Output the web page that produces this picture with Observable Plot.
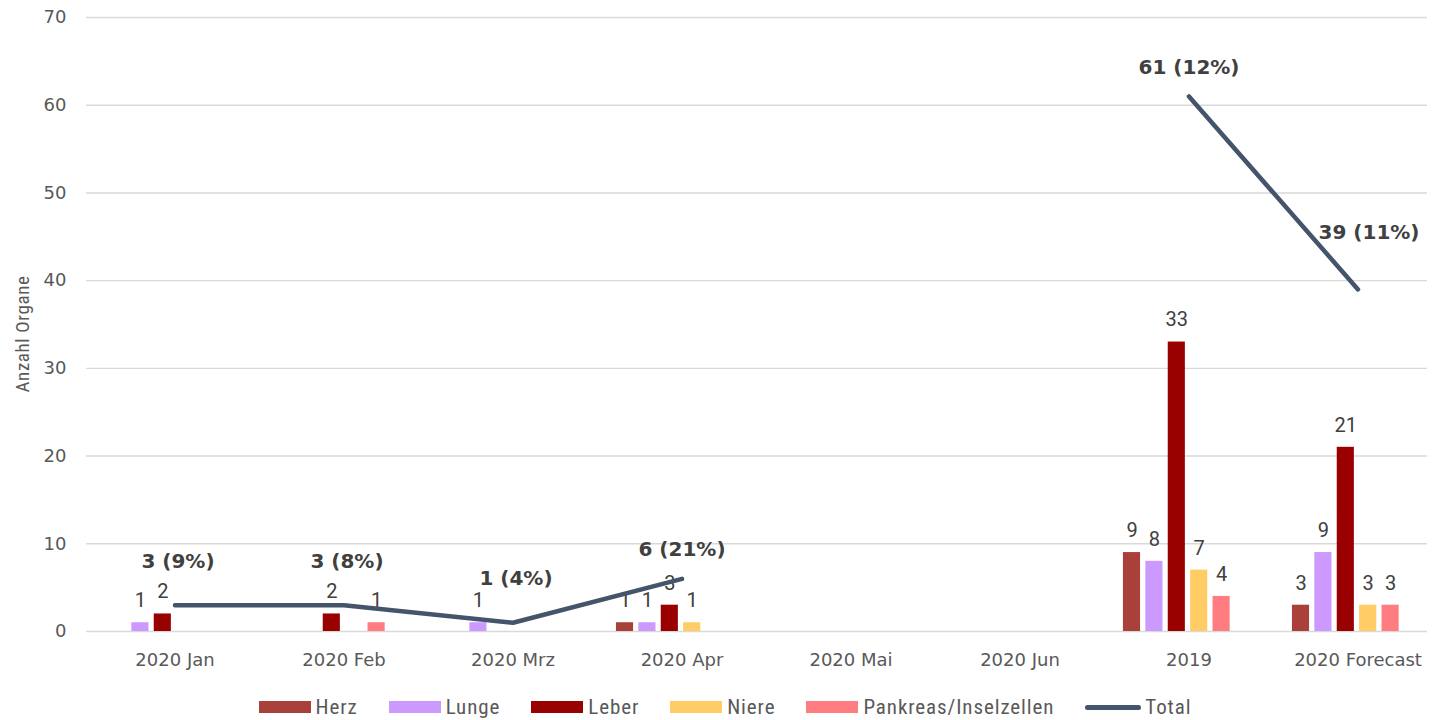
<!DOCTYPE html>
<html>
<head>
<meta charset="utf-8">
<script src="https://cdn.jsdelivr.net/npm/d3@7"></script>
<script src="https://cdn.jsdelivr.net/npm/@observablehq/plot@0.6"></script>
<style>
  html, body { margin: 0; padding: 0; background: #ffffff; overflow: hidden; }
  #wrap { position: relative; width: 1436px; height: 720px; }
  #legend {
    position: absolute; left: 0; top: 692px; width: 1436px; height: 30px;
    display: flex; justify-content: center; align-items: center;
    padding-left: 14px; box-sizing: border-box;
    font-family: "Liberation Sans Narrow", "Arial Narrow", "Roboto", sans-serif;
    font-stretch: condensed; font-size: 21px; letter-spacing: 0.9px; color: #595959;
  }
  .item { display: flex; align-items: center; margin-right: 31px; }
  .item:last-child { margin-right: 0; }
  .sw { width: 52px; height: 12px; margin-right: 5px; }
  .ln { width: 56px; height: 5px; border-radius: 3px; margin-right: 4px; }
</style>
</head>
<body>
<div id="wrap"><div id="chart"></div><div id="legend"></div></div>
<script>
// ---- data ----
const categories = ["2020 Jan", "2020 Feb", "2020 Mrz", "2020 Apr", "2020 Mai", "2020 Jun", "2019", "2020 Forecast"];
const seriesNames = ["Herz", "Lunge", "Leber", "Niere", "Pankreas/Inselzellen"];
const herz     = [null, null, null, 1, null, null, 9, 3];
const lunge    = [1, null, 1, 1, null, null, 8, 9];
const leber    = [2, 2, null, 3, null, null, 33, 21];
const niere    = [null, null, null, 1, null, null, 7, 3];
const pankreas = [null, 1, null, null, null, null, 4, 3];
const total    = [3, 3, 1, 6, null, null, 61, 39];
const totalPct = [9, 8, 4, 21, null, null, 12, 11];
const yTicks   = [0, 10, 20, 30, 40, 50, 60, 70];
const totalName = "Total";

// ---- styles ----
const seriesColors = ["#A9403A", "#CC99FF", "#990000", "#FFCC66", "#FF7C80"];
const totalColor = "#44546A";
const W = 1436, H = 680;
const mL = 86, mR = 9, mT = 17, mB = 49;
const xRange = [86, 1445];
const bandW = (xRange[1] - xRange[0]) / categories.length;
const barW = 18, barStep = 22.4;
const tickFont = "'DejaVu Sans', Verdana, sans-serif";

const seriesValues = [herz, lunge, leber, niere, pankreas];

const barMarks = [];
const valueLabelMarks = [];
seriesValues.forEach((vals, i) => {
  const rows = categories.map((c, j) => ({cat: c, value: vals[j], series: seriesNames[i]}))
    .filter(d => d.value != null);
  const dx = (i - 2.5) * barStep - 1;
  const inset = (bandW - barW) / 2;
  barMarks.push(Plot.barY(rows, {
    x: "cat", y: "value", fill: seriesColors[i], dx,
    insetLeft: inset, insetRight: inset
  }));
  valueLabelMarks.push(Plot.text(rows, {
    x: "cat", y: "value", text: d => String(d.value), dx, dy: -22,
    fontSize: 20, fontFamily: "Roboto, sans-serif", fill: "#404040"
  }));
});

const totalRows = categories.map((c, j) => ({cat: c, total: total[j], pct: totalPct[j]}));
const totalLabelRows = totalRows.filter(d => d.total != null);
// label placement groups (style only)
const labelPlacement = [
  {cats: ["2020 Jan", "2020 Feb", "2020 Mrz"], dx: 3, dy: -44},
  {cats: ["2020 Apr", "2019"], dx: 0, dy: -29},
  {cats: ["2020 Forecast"], dx: 11, dy: -57}
];
const totalLabelMarks = labelPlacement.map(p => Plot.text(
  totalLabelRows.filter(d => p.cats.includes(d.cat)), {
    x: "cat", y: "total", text: d => `${d.total} (${d.pct}%)`,
    dx: p.dx, dy: p.dy, fontSize: 20, fontWeight: "bold",
    fontFamily: tickFont, fill: "#404040"
  }));

const chart = Plot.plot({
  width: W, height: H,
  marginLeft: mL, marginRight: mR, marginTop: mT, marginBottom: mB,
  style: {background: "#ffffff", overflow: "visible"},
  x: {type: "band", domain: categories, range: xRange, padding: 0, label: null},
  y: {domain: [0, 70], label: null},
  marks: [
    Plot.gridY(yTicks, {stroke: "#d9d9d9", strokeOpacity: 1, strokeWidth: 1.4}),
    Plot.axisY({ticks: yTicks, tickSize: 0, tickPadding: 20, fontSize: 18,
      fontFamily: tickFont, fill: "#595959", label: null}),
    Plot.axisX({tickSize: 0, tickPadding: 22, fontSize: 18,
      fontFamily: tickFont, fill: "#595959", label: null}),
    ...barMarks,
    ...valueLabelMarks,
    Plot.line(totalRows, {x: "cat", y: "total", stroke: totalColor, strokeWidth: 4.5,
      strokeLinecap: "round", strokeLinejoin: "round"}),
    ...totalLabelMarks
  ]
});

// y-axis title
d3.select(chart).append("text")
  .attr("transform", `translate(24, 334) rotate(-90)`)
  .attr("text-anchor", "middle")
  .attr("dominant-baseline", "middle")
  .style("font-family", "'Liberation Sans Narrow', 'Arial Narrow', Roboto, sans-serif")
  .style("font-stretch", "condensed")
  .style("font-size", "19px")
  .style("letter-spacing", "0.6px")
  .attr("fill", "#595959")
  .text("Anzahl Organe");

document.getElementById("chart").appendChild(chart);

// legend
const legend = document.getElementById("legend");
seriesNames.forEach((name, i) => {
  const it = document.createElement("div"); it.className = "item";
  const sw = document.createElement("div"); sw.className = "sw"; sw.style.background = seriesColors[i];
  const tx = document.createElement("span"); tx.textContent = name;
  it.appendChild(sw); it.appendChild(tx); legend.appendChild(it);
});
{
  const it = document.createElement("div"); it.className = "item";
  const sw = document.createElement("div"); sw.className = "ln"; sw.style.background = totalColor;
  const tx = document.createElement("span"); tx.textContent = totalName;
  it.appendChild(sw); it.appendChild(tx); legend.appendChild(it);
}
</script>
</body>
</html>
